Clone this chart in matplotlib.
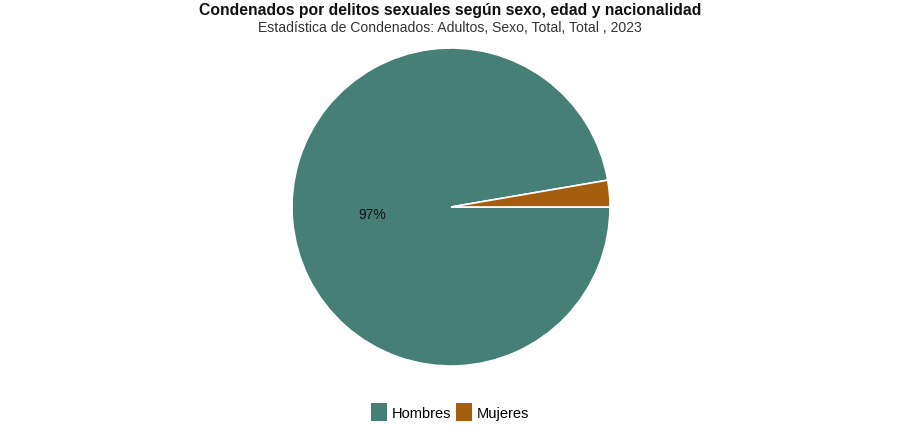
import matplotlib.pyplot as plt
from matplotlib.patches import Patch

plt.rcParams['font.family'] = ['Liberation Sans', 'DejaVu Sans']

labels = ["Hombres", "Mujeres"]
values = [97.3, 2.7]
colors = ["#467f76", "#a65d0e"]


def pct_label(p):
    # only the big slice gets a label
    return f"{p:.0f}%" if p > 10 else ""


fig = plt.figure(figsize=(9, 4.39), dpi=100)

fig.text(0.5, 1 - 11 / 439, "Condenados por delitos sexuales según sexo, edad y nacionalidad",
         ha="center", va="center", fontsize=11.3, fontweight="bold", color="#111111")
fig.text(0.5, 1 - 28 / 439, "Estadística de Condenados: Adultos, Sexo, Total, Total , 2023",
         ha="center", va="center", fontsize=10.1, color="#333333")

cx, cy, r = 451, 208, 159
ax = fig.add_axes([(cx - r) / 900, (439 - cy - r) / 439, 2 * r / 900, 2 * r / 439])
_, _, autotexts = ax.pie(values, colors=colors, startangle=0, counterclock=False,
                         autopct=pct_label, pctdistance=0.5, radius=1,
                         wedgeprops=dict(edgecolor="white", linewidth=1.2),
                         textprops=dict(fontsize=10, color="#111111"))
ax.set_xlim(-1, 1)
ax.set_ylim(-1, 1)
ax.set_aspect("equal")
ax.axis("off")

handles = [Patch(facecolor=c, edgecolor="none") for c in colors]
fig.legend(handles, labels, loc="center", bbox_to_anchor=(0.5, 1 - 413 / 439),
           ncol=2, frameon=False, fontsize=10.5, handlelength=1.1, handleheight=1.45,
           handletextpad=0.35, columnspacing=0.3)

fig.savefig("out.png", dpi=100)
